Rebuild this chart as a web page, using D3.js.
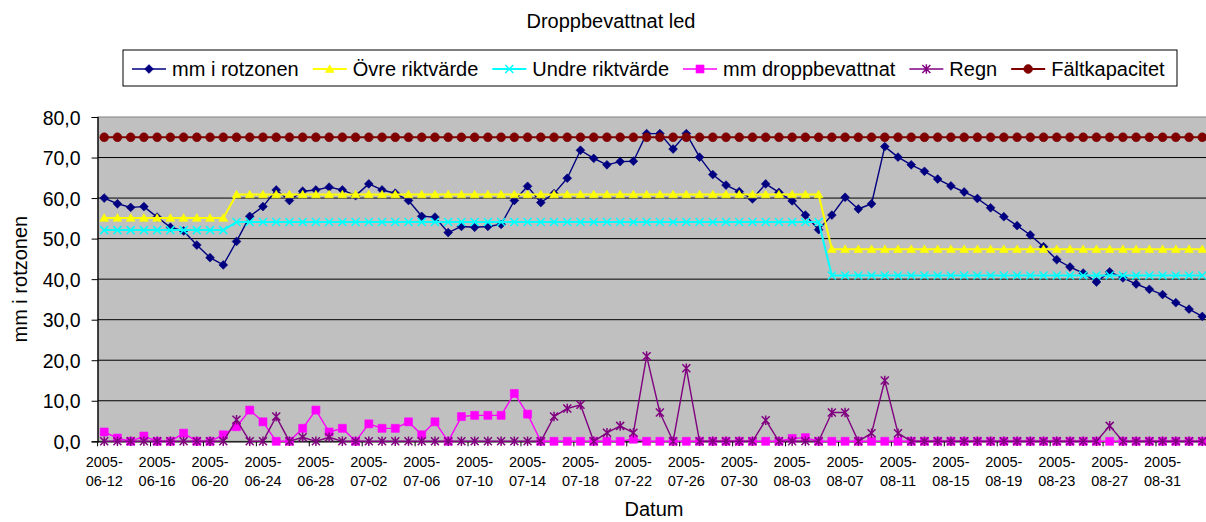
<!DOCTYPE html>
<html><head><meta charset="utf-8">
<script src="https://cdn.jsdelivr.net/npm/d3@7/dist/d3.min.js"></script>
<style>
body{margin:0;background:#fff;overflow:hidden}
svg{display:block}
text{font-family:"Liberation Sans",Arial,sans-serif;fill:#000}
</style>
</head><body>
<svg id="chart" width="1206" height="522"></svg>
<script>
// ---------- DATA ----------
const startDate = "2005-06-12";
const dayCount = 84;
const parseDay = d3.timeParse("%Y-%m-%d");
const fmtDay = d3.timeFormat("%Y-%m-%d");
const categories = d3.timeDay.range(parseDay(startDate), d3.timeDay.offset(parseDay(startDate), dayCount)).map(fmtDay);

const xTickLabels = ["2005-06-12","2005-06-16","2005-06-20","2005-06-24","2005-06-28","2005-07-02","2005-07-06",
  "2005-07-10","2005-07-14","2005-07-18","2005-07-22","2005-07-26","2005-07-30","2005-08-03","2005-08-07",
  "2005-08-11","2005-08-15","2005-08-19","2005-08-23","2005-08-27","2005-08-31"];
const yTicks = [0,10,20,30,40,50,60,70,80];

const mmRotzonen = [60.0,58.6,57.7,57.9,55.3,52.8,51.9,48.4,45.3,43.5,
  49.3,55.5,57.9,62.0,59.4,61.7,62.0,62.7,62.0,60.6,
  63.5,62.0,61.2,59.4,55.5,55.3,51.5,53.0,52.8,53.0,
  53.5,59.4,62.9,58.9,61.1,64.9,71.8,69.8,68.2,69.0,
  69.1,75.9,75.9,72.1,75.9,70.1,65.8,63.2,61.6,59.8,
  63.5,61.4,59.3,55.8,52.2,55.8,60.2,57.3,58.6,72.7,
  70.1,68.2,66.6,64.7,63.0,61.5,59.9,57.6,55.4,53.2,
  50.9,48.0,44.8,43.0,41.5,39.3,41.8,40.3,38.8,37.5,
  36.2,34.2,32.6,30.8];

const ovreRiktvarde = [55.1,55.1,55.1,55.1,55.1,55.1,55.1,55.1,55.1,55.1,
  60.9,60.9,60.9,60.9,60.9,60.9,60.9,60.9,60.9,60.9,
  60.9,60.9,60.9,60.9,60.9,60.9,60.9,60.9,60.9,60.9,
  60.9,60.9,60.9,60.9,60.9,60.9,60.9,60.9,60.9,60.9,
  60.9,60.9,60.9,60.9,60.9,60.9,60.9,60.9,60.9,60.9,
  60.9,60.9,60.9,60.9,60.9,47.4,47.4,47.4,47.4,47.4,
  47.4,47.4,47.4,47.4,47.4,47.4,47.4,47.4,47.4,47.4,
  47.4,47.4,47.4,47.4,47.4,47.4,47.4,47.4,47.4,47.4,
  47.4,47.4,47.4,47.4];

const undreRiktvarde = [52.1,52.1,52.1,52.1,52.1,52.1,52.1,52.1,52.1,52.1,
  54.1,54.1,54.1,54.1,54.1,54.1,54.1,54.1,54.1,54.1,
  54.1,54.1,54.1,54.1,54.1,54.1,54.1,54.1,54.1,54.1,
  54.1,54.1,54.1,54.1,54.1,54.1,54.1,54.1,54.1,54.1,
  54.1,54.1,54.1,54.1,54.1,54.1,54.1,54.1,54.1,54.1,
  54.1,54.1,54.1,54.1,54.1,40.9,40.9,40.9,40.9,40.9,
  40.9,40.9,40.9,40.9,40.9,40.9,40.9,40.9,40.9,40.9,
  40.9,40.9,40.9,40.9,40.9,40.9,40.9,40.9,40.9,40.9,
  40.9,40.9,40.9,40.9];

const mmDroppbevattnat = [2.3,0.8,0,1.3,0,0,2.0,0,0,1.6,
  3.6,7.7,4.8,0,0,3.2,7.7,2.3,3.2,0,
  4.3,3.2,3.2,4.8,1.6,4.8,0,6.1,6.4,6.4,
  6.4,11.8,6.7,0,0,0,0,0,0,0,
  0.5,0,0,0,0,0,0,0,0,0,
  0,0,0.7,0.9,0,0,0,0,0,0,
  0,0,0,0,0,0,0,0,0,0,
  0,0,0,0,0,0,0,0,0,0,
  0,0,0,0];

const regn = [0,0,0,0,0,0,0,0,0,0,
  5.3,0,0,6.1,0,1.0,0,1.0,0,0,
  0,0,0,0,0,0,0,0,0,0,
  0,0,0,0,6.1,8.1,9.0,0,2.1,3.8,
  2.1,21.0,7.1,0,18.0,0,0,0,0,0,
  5.2,0,0,0,0,7.1,7.1,0,2.0,15.0,
  2.0,0,0,0,0,0,0,0,0,0,
  0,0,0,0,0,0,3.8,0,0,0,
  0,0,0,0];

const faltkapacitet = [75,75,75,75,75,75,75,75,75,75,
  75,75,75,75,75,75,75,75,75,75,
  75,75,75,75,75,75,75,75,75,75,
  75,75,75,75,75,75,75,75,75,75,
  75,75,75,75,75,75,75,75,75,75,
  75,75,75,75,75,75,75,75,75,75,
  75,75,75,75,75,75,75,75,75,75,
  75,75,75,75,75,75,75,75,75,75,
  75,75,75,75];

const seriesNames = ["mm i rotzonen","Övre riktvärde","Undre riktvärde","mm droppbevattnat","Regn","Fältkapacitet"];
const seriesValues = [mmRotzonen, ovreRiktvarde, undreRiktvarde, mmDroppbevattnat, regn, faltkapacitet];

// ---------- STYLE ----------
const markerPaths = {
  diamond: "M0,-4.4L4.4,0L0,4.4L-4.4,0Z",
  triangle: "M0,-4.2L4.4,3.4L-4.4,3.4Z",
  cross: "M-4,-4L4,4M4,-4L-4,4",
  square: "M-4,-4h8v8h-8Z",
  asterisk: "M-4,-4L4,4M4,-4L-4,4M0,-4.8L0,4.8",
  circle: "M4.4,0A4.4,4.4 0 1 1 -4.4,0A4.4,4.4 0 1 1 4.4,0Z"
};
const seriesStyle = [
  {color:"#000080", marker:"diamond", lw:1.4, filled:true},
  {color:"#FFFF00", marker:"triangle", lw:2, filled:true},
  {color:"#00FFFF", marker:"cross", lw:2, filled:false},
  {color:"#FF00FF", marker:"square", lw:1.4, filled:true},
  {color:"#800080", marker:"asterisk", lw:1.4, filled:false},
  {color:"#800000", marker:"circle", lw:2, filled:true}
];

const plot = {left:97.6, top:117, right:1208.9, bottom:441.3};
const svg = d3.select("#chart");

const x = d3.scaleBand().domain(categories).range([plot.left, plot.right]).padding(0);
const bw = x.bandwidth();
const cx = d => x(d) + bw/2;
const y = d3.scaleLinear().domain([0,80]).range([plot.bottom, plot.top]);

// plot area
svg.append("rect").attr("x",plot.left).attr("y",plot.top)
  .attr("width",plot.right-plot.left).attr("height",plot.bottom-plot.top)
  .attr("fill","#C0C0C0").attr("stroke","#808080").attr("stroke-width",1);

// gridlines
svg.append("g").selectAll("line").data(yTicks.filter(v=>v>0 && v<80)).join("line")
  .attr("x1",plot.left).attr("x2",plot.right)
  .attr("y1",d=>y(d)).attr("y2",d=>y(d))
  .attr("stroke","#000").attr("stroke-width",1);

// y axis
const yAxis = svg.append("g").attr("transform",`translate(${plot.left},0)`)
  .call(d3.axisLeft(y).tickValues(yTicks).tickSize(6).tickPadding(11)
    .tickFormat(d=>d.toFixed(1).replace(".",",")));
yAxis.select(".domain").attr("stroke","#000").attr("stroke-width",1.2);
yAxis.selectAll(".tick line").attr("stroke","#000");
yAxis.selectAll(".tick text").attr("font-size","19.5px").attr("font-family",'"Liberation Sans",Arial,sans-serif').attr("dy","0.36em");

// x axis
const xAxis = svg.append("g").attr("transform",`translate(0,${plot.bottom})`)
  .call(d3.axisBottom(x).tickValues(xTickLabels).tickSize(0).tickPadding(0));
xAxis.select(".domain").attr("stroke","#000").attr("stroke-width",1.2);
xAxis.selectAll(".tick text").each(function(d){
  const t = d3.select(this);
  t.text(null).attr("font-size","14.5px").attr("font-family",'"Liberation Sans",Arial,sans-serif').attr("y",0).attr("dy",null);
  t.append("tspan").attr("x",0).attr("y",26).text(d.slice(0,5));
  t.append("tspan").attr("x",0).attr("y",45).text(d.slice(5));
});
// tick marks at category boundaries
svg.append("g").selectAll("line").data(xTickLabels).join("line")
  .attr("x1",d=>x(d)).attr("x2",d=>x(d))
  .attr("y1",plot.bottom).attr("y2",plot.bottom+5)
  .attr("stroke","#000").attr("stroke-width",1);

// series
const line = d3.line().x((d,i)=>cx(categories[i])).y(d=>y(d));
seriesValues.forEach((vals,si)=>{
  const st = seriesStyle[si];
  const g = svg.append("g");
  g.append("path").datum(vals).attr("d",line).attr("fill","none")
    .attr("stroke",st.color).attr("stroke-width",st.lw).attr("stroke-linejoin","round");
  g.selectAll("path.m").data(vals).join("path").attr("class","m")
    .attr("transform",(d,i)=>`translate(${cx(categories[i])},${y(d)})`)
    .attr("d",markerPaths[st.marker])
    .attr("fill",st.filled?st.color:"none")
    .attr("stroke",st.color).attr("stroke-width",st.filled?0.6:1.5);
});

// title
svg.append("text").attr("x",611).attr("y",28).attr("text-anchor","middle")
  .attr("font-size","20px").text("Droppbevattnat led");

// axis titles
svg.append("text").attr("x",654).attr("y",516).attr("text-anchor","middle")
  .attr("font-size","20px").text("Datum");
svg.append("text").attr("transform",`translate(27,${(plot.top+plot.bottom)/2}) rotate(-90)`)
  .attr("text-anchor","middle").attr("font-size","20px").text("mm i rotzonen");

// legend
const leg = svg.append("g");
leg.append("rect").attr("x",123).attr("y",50).attr("width",1054).attr("height",36)
  .attr("fill","#fff").attr("stroke","#000").attr("stroke-width",1);
let lx = 132;
seriesNames.forEach((name,si)=>{
  const st = seriesStyle[si];
  const ly = 69;
  leg.append("line").attr("x1",lx).attr("x2",lx+34).attr("y1",ly).attr("y2",ly)
    .attr("stroke",st.color).attr("stroke-width",st.lw);
  leg.append("path").attr("transform",`translate(${lx+17},${ly})`).attr("d",markerPaths[st.marker])
    .attr("fill",st.filled?st.color:"none").attr("stroke",st.color).attr("stroke-width",st.filled?0.6:1.5);
  const t = leg.append("text").attr("x",lx+40).attr("y",ly+7).attr("font-size","20px").text(name);
  lx += 40 + t.node().getComputedTextLength() + 14;
});
</script>
</body></html>
